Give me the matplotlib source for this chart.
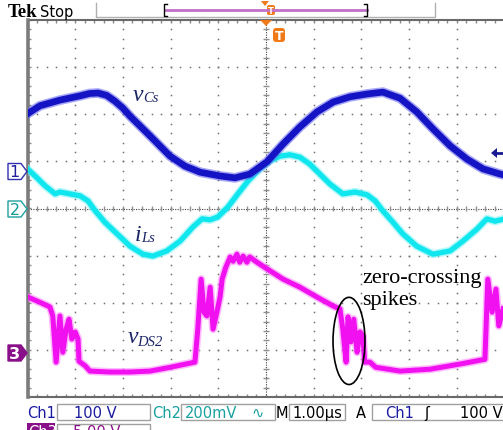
import numpy as np
import matplotlib
matplotlib.use('Agg')
import matplotlib.pyplot as plt
from matplotlib.patches import Ellipse, Polygon, Rectangle, FancyBboxPatch

W, H = 503, 431

# time in us (1 us/div), amplitude in screen divisions
t_vcs = [0.0, 0.26, 0.68, 1.10, 1.30, 1.48, 1.66, 1.83, 2.00, 2.15, 2.57, 2.99, 3.30, 3.62, 4.04, 4.35, 4.66,
         5.02, 5.36, 5.71, 6.07, 6.41, 6.76, 7.12, 7.45, 7.81, 8.16, 8.50, 8.86, 9.21, 9.55, 9.91, 10.0]
v_vcs = [2.01, 2.18, 2.30, 2.39, 2.44, 2.45, 2.40, 2.28, 2.13, 1.96, 1.54, 1.11, 0.90, 0.77, 0.69, 0.65, 0.73,
         0.99, 1.37, 1.73, 2.05, 2.26, 2.37, 2.43, 2.47, 2.34, 2.05, 1.69, 1.33, 1.05, 0.84, 0.73, 0.71]

t_ils = [0.0, 0.16, 0.37, 0.58, 0.68, 0.89, 1.10, 1.27, 1.42, 1.62, 1.88, 2.15, 2.42, 2.63, 2.92,
         3.20, 3.47, 3.66, 3.83, 3.99, 4.20, 4.41, 4.62, 4.87, 5.08, 5.29, 5.50, 5.71, 5.92, 6.13,
         6.34, 6.61, 6.87, 7.12, 7.29, 7.45, 7.66, 7.87, 8.16, 8.50, 8.86, 9.13, 9.42, 9.63, 9.80, 10.0]
v_ils = [0.84, 0.69, 0.48, 0.31, 0.35, 0.31, 0.27, 0.16, -0.05, -0.29, -0.54, -0.80, -0.97, -1.01, -0.90,
         -0.69, -0.39, -0.22, -0.24, -0.18, 0.03, 0.31, 0.58, 0.84, 1.01, 1.11, 1.14, 1.09, 0.94, 0.73,
         0.52, 0.31, 0.35, 0.29, 0.16, -0.05, -0.29, -0.54, -0.80, -0.97, -0.90, -0.69, -0.44, -0.22, -0.27, -0.22]

t_vds = [0.01, 0.26, 0.47, 0.53, 0.60, 0.68, 0.74, 0.81, 0.87, 0.93, 1.00, 1.06, 1.08, 1.21, 1.31,
         1.73, 2.15, 2.57, 2.99, 3.51, 3.57, 3.64, 3.70, 3.76, 3.83, 3.89, 3.97, 4.04, 4.08, 4.16,
         4.25, 4.31, 4.39, 4.45, 4.52, 4.60, 4.66, 4.81, 5.02, 5.36, 5.71, 6.07, 6.41, 6.55, 6.61,
         6.68, 6.72, 6.78, 6.84, 6.91, 6.97, 7.03, 7.07, 7.18, 7.30, 7.81, 8.44, 9.07, 9.59, 9.65,
         9.74, 9.82, 9.88, 9.97]
v_vds = [-1.88, -1.99, -2.09, -2.28, -3.26, -2.28, -3.05, -2.56, -2.35, -2.77, -2.62, -2.77, -3.24, -3.34, -3.45,
         -3.47, -3.47, -3.45, -3.37, -3.26, -2.56, -1.50, -2.20, -2.28, -1.67, -2.56, -2.20, -1.86, -1.50, -1.24,
         -1.03, -1.12, -0.97, -1.14, -1.01, -1.14, -1.03, -1.14, -1.28, -1.50, -1.67, -1.88, -2.07, -2.13, -2.56,
         -3.26, -2.30, -2.83, -2.35, -3.05, -2.62, -2.71, -3.26, -3.26, -3.37, -3.45, -3.41, -3.30, -3.20, -1.50,
         -2.20, -1.71, -2.49, -2.13]

# circled zero-crossing region (center t, center v, width, height)
spike_ellipse = (6.74, -2.81, 0.67, 1.85)

fig = plt.figure(figsize=(W / 100, H / 100), dpi=100)
ax = fig.add_axes([27.5 / W, 1 - 398 / H, 477 / W, 377 / H])
ax.set_xlim(0, 10)
ax.set_ylim(-4, 4)
ax.set_xticks([])
ax.set_yticks([])
for s in ax.spines.values():
    s.set_visible(False)

# graticule
gc = '#707070'
fy_ = np.arange(-4, 4.01, 0.2)
fx_ = np.arange(0, 10.01, 0.2)
for gx in range(1, 10):
    if gx == 5:
        continue
    ax.plot(np.full_like(fy_, gx), fy_, ls='none', marker='s', ms=1.1, mec='none', mfc=gc)
for gy in range(-3, 4):
    if gy == 0:
        continue
    ax.plot(fx_, np.full_like(fx_, gy), ls='none', marker='s', ms=1.1, mec='none', mfc=gc)
ax.plot([0, 10], [0, 0], color='#404040', lw=0.8, ls=(0, (1, 1.2)))
ax.plot([5, 5], [-4, 4], color='#404040', lw=0.8, ls=(0, (1, 1.2)))
ax.vlines(fx_, -0.06, 0.06, color='#909090', lw=1)
ax.hlines(fy_, 4.94, 5.06, color='#909090', lw=1)
ax.vlines(fx_, 3.93, 4, color='#888888', lw=1)
ax.vlines(fx_, -4, -3.93, color='#888888', lw=1)
ax.hlines(fy_, 0, 0.08, color='#888888', lw=1)
ax.plot([0, 10], [4, 4], color='#6a6a6a', lw=1.5, clip_on=False)
ax.plot([0, 10], [-4, -4], color='#6a6a6a', lw=1.5, clip_on=False)
ax.plot([0, 0], [-4, 4], color='#7c7c7c', lw=2.6, clip_on=False)


def trace(t, v, core, halo, lw, z):
    ax.plot(t, v, color=halo, lw=lw + 2.2, alpha=0.55, solid_joinstyle='round', zorder=z)
    ax.plot(t, v, color=core, lw=lw, solid_joinstyle='round', zorder=z + 0.1)


trace(t_vds, v_vds, '#f010f0', '#ff80ff', 3.6, 3)
trace(t_ils, v_ils, '#10e6ee', '#80f4f8', 3.8, 4)
trace(t_vcs, v_vcs, '#1414c4', '#6060ee', 4.8, 5)

ex, ey, ew, eh = spike_ellipse
ax.add_patch(Ellipse((ex, ey), ew, eh, fill=False, ec='black', lw=1.2, zorder=8))

# overlay in pixel coordinates for the scope decorations
ov = fig.add_axes([0, 0, 1, 1], zorder=5)
ov.set_xlim(0, W)
ov.set_ylim(H, 0)
ov.axis('off')

lab_c = '#1b2465'
serif = 'Liberation Serif'
ov.text(133, 101, 'v', family=serif, style='italic', fontsize=17, color=lab_c)
ov.text(143, 102, 'Cs', family=serif, style='italic', fontsize=10.5, color=lab_c)
ov.text(135, 241, 'i', family=serif, style='italic', fontsize=17, color=lab_c)
ov.text(141, 242, 'Ls', family=serif, style='italic', fontsize=10.5, color=lab_c)
ov.text(128, 343, 'v', family=serif, style='italic', fontsize=17, color=lab_c)
ov.text(137, 346, 'DS2', family=serif, style='italic', fontsize=10.5, color=lab_c)
ov.text(362, 283, 'zero-crossing', family=serif, fontsize=16, color='black')
ov.text(362, 305, 'spikes', family=serif, fontsize=16, color='black')

# channel ground markers
for yc, ec, fc, tc, lbl in [(172.5, '#3030b0', 'white', '#2020a0', '1'),
                            (210, '#20a0a0', 'white', '#149a9a', '2'),
                            (354, '#8a108a', '#8a108a', 'white', '3')]:
    ov.add_patch(Polygon([(8, yc - 8), (21, yc - 8), (27, yc), (21, yc + 8), (8, yc + 8)],
                         closed=True, fc=fc, ec=ec, lw=1))
    ov.text(14.5, yc + 0.5, lbl, ha='center', va='center', fontsize=11.5, color=tc,
            fontweight='bold' if lbl == '3' else 'normal')

# trigger level arrow
ov.add_patch(Polygon([(491, 154), (497, 149), (497, 159)], closed=True, fc='#1a1a90', ec='none'))
ov.plot([496, 502], [154, 154], color='#1a1a90', lw=2)

# header
ov.text(8, 17, 'Tek', family=serif, fontweight='bold', fontsize=13.5, color='black')
ov.text(40, 17, 'Stop', fontsize=10.5, color='black')
ov.plot([96, 96, 435, 435], [4, 17.5, 17.5, 4], color='#b0b0b0', lw=1)
ov.plot([165, 367], [11, 11], color='#c070c8', lw=2)
ov.plot([167, 164, 164, 167], [5, 5, 17, 17], color='black', lw=1)
ov.plot([364, 367, 367, 364], [5, 5, 17, 17], color='black', lw=1)
orange = '#f07a18'
ov.add_patch(Polygon([(261, 2), (269, 2), (265, 7)], closed=True, fc=orange, ec='none'))
ov.add_patch(FancyBboxPatch((267, 6), 8, 10, boxstyle='round,pad=0,rounding_size=2', fc=orange, ec='none'))
ov.text(271, 11.5, 'T', ha='center', va='center', fontsize=6, fontweight='bold', color='white')
ov.add_patch(Polygon([(260, 21), (272, 21), (266, 27)], closed=True, fc=orange, ec='none', zorder=3))
ov.add_patch(FancyBboxPatch((273, 29), 12, 14, boxstyle='round,pad=0,rounding_size=3', fc=orange, ec='none'))
ov.text(279, 36.5, 'T', ha='center', va='center', fontsize=9, fontweight='bold', color='white')

# status bar (second row is cut by the bottom edge, as on the scope capture)
box_c = '#a0a0a0'
for x0, w0, y0 in [(57, 93, 405), (181, 94, 405), (289, 56, 405), (372, 140, 405), (57, 93, 425)]:
    ov.add_patch(Rectangle((x0, y0), w0, 16, fill=False, ec=box_c, lw=1))
ov.add_patch(Rectangle((27, 424), 28, 16, fc='#8a108a', ec='none'))
blue = '#1a1aa0'
teal = '#18a0a0'
bar = [(27, 'Ch1', blue), (74, '100 V', blue), (152, 'Ch2', teal), (185, '200mV', teal),
       (251, '\u223f', teal), (276, 'M', 'black'), (292, '1.00\u00b5s', 'black'), (356, 'A', 'black'),
       (385, 'Ch1', blue), (424, '\u0283', 'black'), (460, '100 V', 'black')]
for x0, s, c in bar:
    ov.text(x0, 418, s, fontsize=10.5, color=c)
ov.text(28, 437, 'Ch3', fontsize=10.5, color='white')
ov.text(73, 437, '5.00 V', fontsize=10.5, color='#8a108a')

fig.savefig('out.png', dpi=100)
